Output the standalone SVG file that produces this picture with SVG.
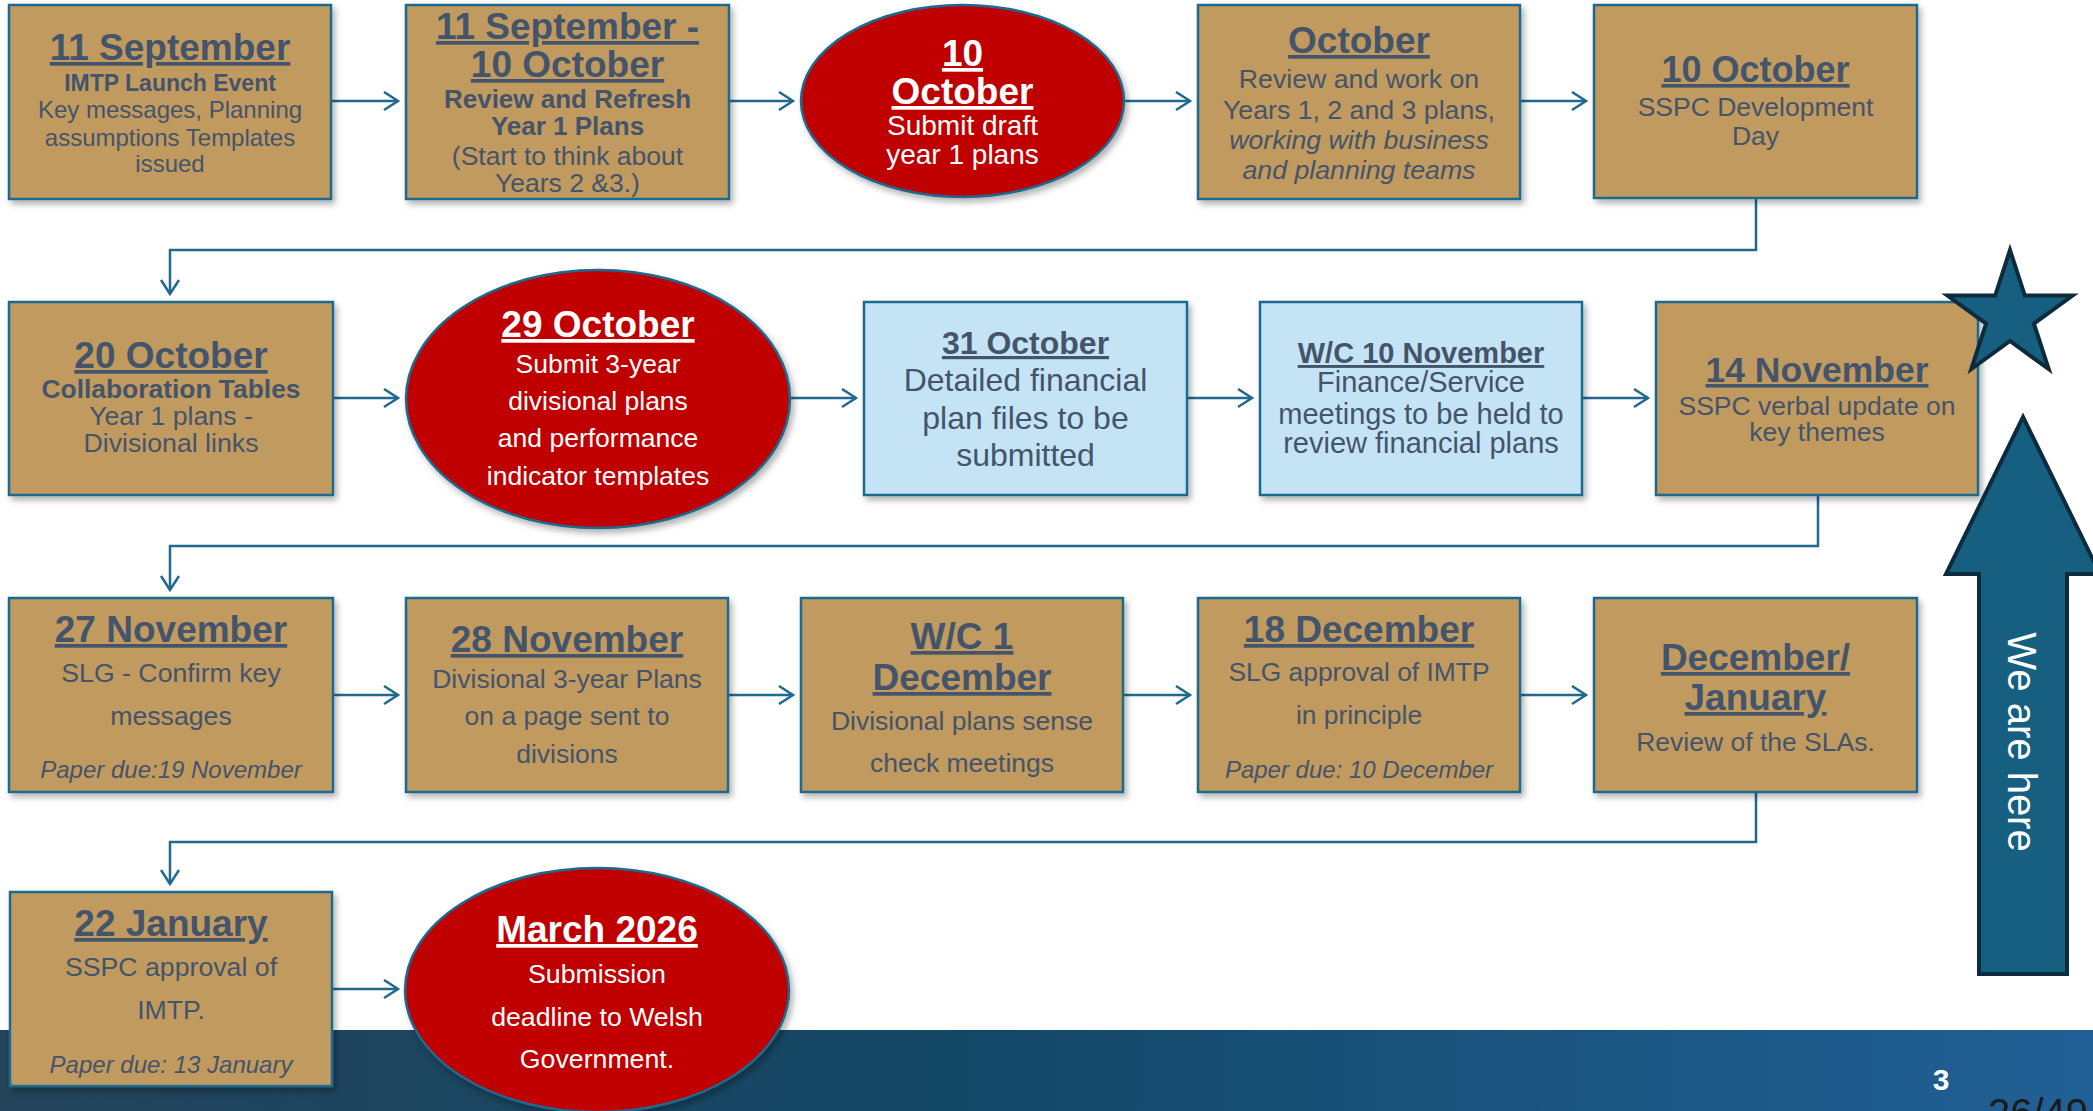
<svg xmlns="http://www.w3.org/2000/svg" width="2093" height="1111" viewBox="0 0 2093 1111">
  <defs>
    <linearGradient id="band" x1="0" y1="0" x2="1" y2="0">
      <stop offset="0" stop-color="#23435a"/>
      <stop offset="0.45" stop-color="#134766"/>
      <stop offset="1" stop-color="#216096"/>
    </linearGradient>
    <filter id="sh" x="-10%" y="-10%" width="125%" height="130%">
      <feDropShadow dx="3" dy="4" stdDeviation="3" flood-color="#000" flood-opacity="0.3"/>
    </filter>
    <marker id="ah" markerUnits="userSpaceOnUse" markerWidth="20" markerHeight="24" refX="15" refY="10" orient="auto">
      <path d="M1,1 L15,10 L1,19" fill="none" stroke="#1f6a8e" stroke-width="2.5"/>
    </marker>
    <style>
      .box{fill:#c19a5e;stroke:#1f6a8e;stroke-width:2.5;filter:url(#sh)}
      .blue{fill:#c4e4f5}
      .oval{fill:#c00000;stroke:#1f6a8e;stroke-width:2.5;filter:url(#sh)}
      .t{font-family:"Liberation Sans",Arial,sans-serif;fill:#44546a;text-anchor:middle}
      .w{fill:#ffffff}
      .h{font-weight:bold;font-size:37px;text-decoration:underline}
      .bd{font-weight:bold}
      .it{font-style:italic}
      .conn{fill:none;stroke:#1f6a8e;stroke-width:2.5}
      .mark{fill:#165f80;stroke:#0c2b3d;stroke-width:4;stroke-linejoin:miter}
    </style>
  </defs>

  <rect width="2093" height="1111" fill="#ffffff"/>
  <!-- footer band -->
  <rect x="0" y="1030" width="2093" height="81" fill="url(#band)"/>
  <text x="1941" y="1090" font-family="Liberation Sans,Arial,sans-serif" font-weight="bold" font-size="30" fill="#ffffff" text-anchor="middle">3</text>
  <text x="1988" y="1127" font-family="Liberation Sans,Arial,sans-serif" font-size="40" fill="#1a1a1a">26/49</text>

  <!-- connectors -->
  <g id="connectors">
    <line class="conn" x1="331" y1="101" x2="398" y2="101" marker-end="url(#ah)"/>
    <line class="conn" x1="729" y1="101" x2="793" y2="101" marker-end="url(#ah)"/>
    <line class="conn" x1="1124" y1="101" x2="1190" y2="101" marker-end="url(#ah)"/>
    <line class="conn" x1="1520" y1="101" x2="1586" y2="101" marker-end="url(#ah)"/>
    <path class="conn" d="M1756,198 V250 H170 V294" marker-end="url(#ah)"/>
    <line class="conn" x1="333" y1="398" x2="398" y2="398" marker-end="url(#ah)"/>
    <line class="conn" x1="790" y1="398" x2="856" y2="398" marker-end="url(#ah)"/>
    <line class="conn" x1="1187" y1="398" x2="1252" y2="398" marker-end="url(#ah)"/>
    <line class="conn" x1="1582" y1="398" x2="1648" y2="398" marker-end="url(#ah)"/>
    <path class="conn" d="M1818,495 V546 H170 V590" marker-end="url(#ah)"/>
    <line class="conn" x1="333" y1="695" x2="398" y2="695" marker-end="url(#ah)"/>
    <line class="conn" x1="728" y1="695" x2="793" y2="695" marker-end="url(#ah)"/>
    <line class="conn" x1="1123" y1="695" x2="1190" y2="695" marker-end="url(#ah)"/>
    <line class="conn" x1="1520" y1="695" x2="1586" y2="695" marker-end="url(#ah)"/>
    <path class="conn" d="M1756,792 V842 H170 V884" marker-end="url(#ah)"/>
    <line class="conn" x1="332" y1="989" x2="398" y2="989" marker-end="url(#ah)"/>
  </g>

  <!-- row 1 -->
  <g id="n-11sep">
    <rect class="box" x="9" y="5" width="322" height="194"/>
    <text class="t h" x="170" y="60">11 September</text>
    <text class="t bd" x="170" y="91" font-size="23">IMTP Launch Event</text>
    <text class="t" x="170" y="118" font-size="24">Key messages, Planning</text>
    <text class="t" x="170" y="146" font-size="24">assumptions Templates</text>
    <text class="t" x="170" y="172" font-size="24">issued</text>
  </g>
  <g id="n-11sep-10oct">
    <rect class="box" x="406" y="5" width="323" height="194"/>
    <text class="t h" x="567.5" y="39">11 September -</text>
    <text class="t h" x="567.5" y="77">10 October</text>
    <text class="t bd" x="567.5" y="108" font-size="26">Review and Refresh</text>
    <text class="t bd" x="567.5" y="135" font-size="26">Year 1 Plans</text>
    <text class="t" x="567.5" y="165" font-size="26.5">(Start to think about</text>
    <text class="t" x="567.5" y="192" font-size="26.5">Years 2 &amp;3.)</text>
  </g>
  <g id="n-10oct-submit">
    <ellipse class="oval" cx="962.5" cy="101" rx="161.5" ry="96"/>
    <text class="t w h" x="962.5" y="66">10</text>
    <text class="t w h" x="962.5" y="104">October</text>
    <text class="t w" x="962.5" y="135" font-size="28">Submit draft</text>
    <text class="t w" x="962.5" y="164" font-size="28">year 1 plans</text>
  </g>
  <g id="n-october">
    <rect class="box" x="1198" y="5" width="322" height="194"/>
    <text class="t h" x="1359" y="53">October</text>
    <text class="t" x="1359" y="88" font-size="26.7">Review and work on</text>
    <text class="t" x="1359" y="119" font-size="26.7">Years 1, 2 and 3 plans,</text>
    <text class="t it" x="1359" y="149" font-size="26.7">working with business</text>
    <text class="t it" x="1359" y="179" font-size="26.7">and planning teams</text>
  </g>
  <g id="n-10oct-sspc">
    <rect class="box" x="1594" y="5" width="323" height="193"/>
    <text class="t h" x="1755.5" y="82" style="font-size:36px">10 October</text>
    <text class="t" x="1755.5" y="116" font-size="26.5">SSPC Development</text>
    <text class="t" x="1755.5" y="145" font-size="26.5">Day</text>
  </g>

  <!-- row 2 -->
  <g id="n-20oct">
    <rect class="box" x="9" y="302" width="324" height="193"/>
    <text class="t h" x="171" y="368">20 October</text>
    <text class="t bd" x="171" y="398" font-size="26.4">Collaboration Tables</text>
    <text class="t" x="171" y="425" font-size="26.7">Year 1 plans -</text>
    <text class="t" x="171" y="452" font-size="26.7">Divisional links</text>
  </g>
  <g id="n-29oct">
    <ellipse class="oval" cx="598" cy="399" rx="192" ry="129"/>
    <text class="t w h" x="598" y="337">29 October</text>
    <text class="t w" x="598" y="373" font-size="26.5">Submit 3-year</text>
    <text class="t w" x="598" y="410" font-size="26.5">divisional plans</text>
    <text class="t w" x="598" y="447" font-size="26.5">and performance</text>
    <text class="t w" x="598" y="485" font-size="26.5">indicator templates</text>
  </g>
  <g id="n-31oct">
    <rect class="box blue" x="864" y="302" width="323" height="193"/>
    <text class="t h" x="1025.5" y="354" style="font-size:32px">31 October</text>
    <text class="t" x="1025.5" y="391" font-size="32">Detailed financial</text>
    <text class="t" x="1025.5" y="429" font-size="32">plan files to be</text>
    <text class="t" x="1025.5" y="466" font-size="32">submitted</text>
  </g>
  <g id="n-wc10nov">
    <rect class="box blue" x="1260" y="302" width="322" height="193"/>
    <text class="t h" x="1421" y="363" style="font-size:29px">W/C 10 November</text>
    <text class="t" x="1421" y="392" font-size="29">Finance/Service</text>
    <text class="t" x="1421" y="424" font-size="29">meetings to be held to</text>
    <text class="t" x="1421" y="453" font-size="29">review financial plans</text>
  </g>
  <g id="n-14nov">
    <rect class="box" x="1656" y="302" width="322" height="193"/>
    <text class="t h" x="1817" y="382" style="font-size:35.5px">14 November</text>
    <text class="t" x="1817" y="415" font-size="26.5">SSPC verbal update on</text>
    <text class="t" x="1817" y="441" font-size="26.5">key themes</text>
  </g>
  <g id="star">
    <polygon class="mark" points="2010,250 2024.8,295.5 2072.6,295.5 2033.9,323.6 2048.7,369.1 2010,341 1971.3,369.1 1986.1,323.6 1947.4,295.5 1995.2,295.5"/>
  </g>

  <!-- row 3 -->
  <g id="n-27nov">
    <rect class="box" x="9" y="598" width="324" height="194"/>
    <text class="t h" x="171" y="642">27 November</text>
    <text class="t" x="171" y="682" font-size="26.7">SLG - Confirm key</text>
    <text class="t" x="171" y="725" font-size="26.7">messages</text>
    <text class="t it" x="171" y="778" font-size="24">Paper due:19 November</text>
  </g>
  <g id="n-28nov">
    <rect class="box" x="406" y="598" width="322" height="194"/>
    <text class="t h" x="567" y="652">28 November</text>
    <text class="t" x="567" y="688" font-size="26.5">Divisional 3-year Plans</text>
    <text class="t" x="567" y="725" font-size="26.5">on a page sent to</text>
    <text class="t" x="567" y="763" font-size="26.5">divisions</text>
  </g>
  <g id="n-wc1dec">
    <rect class="box" x="801" y="598" width="322" height="194"/>
    <text class="t h" x="962" y="649">W/C 1</text>
    <text class="t h" x="962" y="690">December</text>
    <text class="t" x="962" y="730" font-size="26.5">Divisional plans sense</text>
    <text class="t" x="962" y="772" font-size="26.5">check meetings</text>
  </g>
  <g id="n-18dec">
    <rect class="box" x="1198" y="598" width="322" height="194"/>
    <text class="t h" x="1359" y="642">18 December</text>
    <text class="t" x="1359" y="681" font-size="26.4">SLG approval of IMTP</text>
    <text class="t" x="1359" y="724" font-size="26.4">in principle</text>
    <text class="t it" x="1359" y="778" font-size="24">Paper due: 10 December</text>
  </g>
  <g id="n-decjan">
    <rect class="box" x="1594" y="598" width="323" height="194"/>
    <text class="t h" x="1755.5" y="670">December/</text>
    <text class="t h" x="1755.5" y="710">January</text>
    <text class="t" x="1755.5" y="751" font-size="26.5">Review of the SLAs.</text>
  </g>

  <!-- row 4 -->
  <g id="n-22jan">
    <rect class="box" x="10" y="892" width="322" height="194"/>
    <text class="t h" x="171" y="936">22 January</text>
    <text class="t" x="171" y="976" font-size="26.7">SSPC approval of</text>
    <text class="t" x="171" y="1019" font-size="26.7">IMTP.</text>
    <text class="t it" x="171" y="1073" font-size="24">Paper due: 13 January</text>
  </g>
  <g id="n-mar2026">
    <ellipse class="oval" cx="597" cy="990" rx="192" ry="122"/>
    <text class="t w h" x="597" y="942">March 2026</text>
    <text class="t w" x="597" y="983" font-size="26.7">Submission</text>
    <text class="t w" x="597" y="1026" font-size="26.7">deadline to Welsh</text>
    <text class="t w" x="597" y="1068" font-size="26.7">Government.</text>
  </g>

  <!-- progress marker arrow -->
  <g id="we-are-here">
    <polygon class="mark" points="2023,417 2100,574 2067,574 2067,974 1979,974 1979,574 1946,574"/>
    <text transform="translate(2008,742) rotate(90)" x="0" y="0" font-family="Liberation Sans,Arial,sans-serif" font-size="40" fill="#ffffff" text-anchor="middle">We are here</text>
  </g>
</svg>
